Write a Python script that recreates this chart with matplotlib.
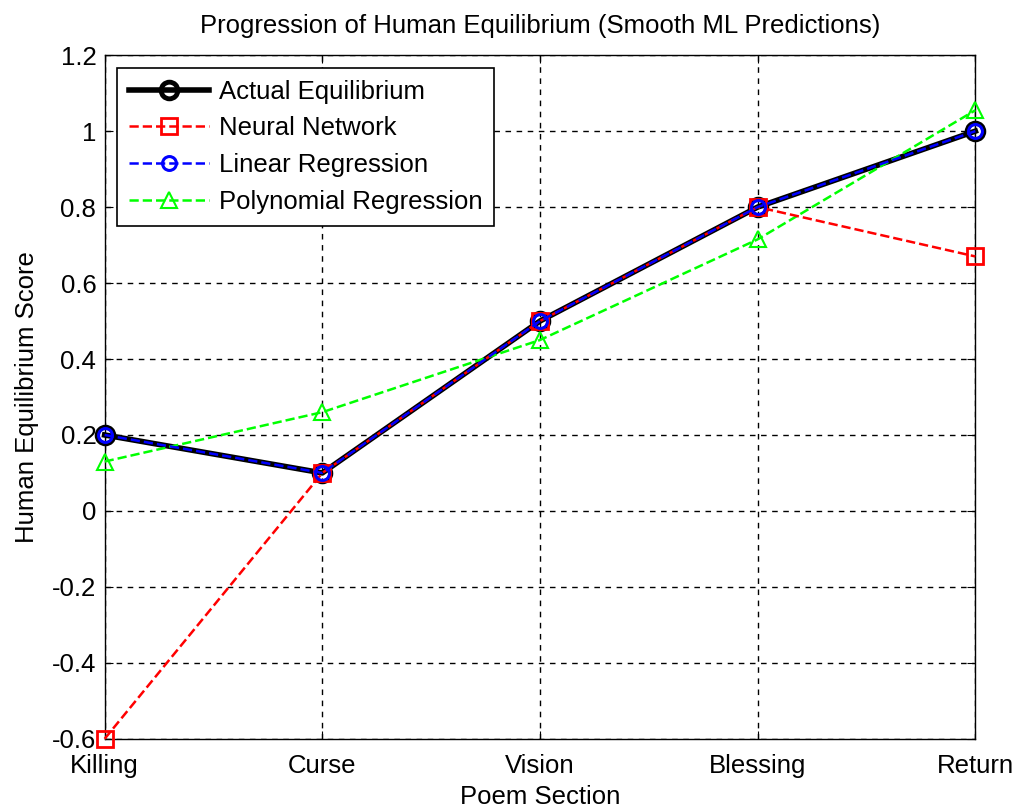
import matplotlib
matplotlib.use("Agg")
import matplotlib.pyplot as plt

sections = ["Killing", "Curse", "Vision", "Blessing", "Return"]
actual = [0.2, 0.1, 0.5, 0.8, 1.0]
neural_net = [-0.6, 0.1, 0.5, 0.8, 0.67]
linear_reg = [0.2, 0.1, 0.5, 0.8, 1.0]
poly_reg = [0.13, 0.26, 0.45, 0.715, 1.055]

plt.rcParams["font.family"] = ["Liberation Sans", "DejaVu Sans"]
fs = 18.5

fig = plt.figure(figsize=(10.16, 8.11), dpi=100)
ax = fig.add_axes([0.103, 0.089, 0.857, 0.843])

x = list(range(1, len(sections) + 1))
ax.plot(x, actual, "-o", color="black", lw=4, ms=12, mfc="none", mew=3.5,
        label="Actual Equilibrium", clip_on=False, zorder=3)
ax.plot(x, neural_net, "--s", color="red", lw=1.8, ms=12, mfc="none", mew=2,
        label="Neural Network", clip_on=False, zorder=4)
ax.plot(x, linear_reg, "--o", color="blue", lw=1.8, ms=10, mfc="none", mew=2.2,
        label="Linear Regression", clip_on=False, zorder=5)
ax.plot(x, poly_reg, "--^", color=(0, 1, 0), lw=1.8, ms=11, mfc="none", mew=1.5,
        label="Polynomial Regression", clip_on=False, zorder=3)

ax.set_xlim(1, 5)
ax.set_ylim(-0.6, 1.2)
ax.set_xticks(x)
ax.set_xticklabels(sections)
ax.set_yticks([-0.6, -0.4, -0.2, 0, 0.2, 0.4, 0.6, 0.8, 1.0, 1.2])
ax.set_yticklabels(["-0.6", "-0.4", "-0.2", "0", "0.2", "0.4", "0.6", "0.8", "1", "1.2"])
ax.tick_params(direction="in", labelsize=fs, length=6, top=True, right=True)
ax.tick_params(axis="x", pad=11)
ax.tick_params(axis="y", pad=6)
ax.grid(True, color="black", ls=(0, (4, 4)), lw=1)
ax.set_axisbelow(True)
for s in ax.spines.values():
    s.set_linewidth(1)

ax.set_xlabel("Poem Section", fontsize=fs, labelpad=5)
ax.set_ylabel("Human Equilibrium Score", fontsize=fs, labelpad=9)
ax.set_title("Progression of Human Equilibrium (Smooth ML Predictions)", fontsize=fs, pad=16)

leg = ax.legend(loc="upper left", fontsize=fs, fancybox=False, edgecolor="black",
                framealpha=1, handlelength=3.1, handletextpad=0.4,
                labelspacing=0.5, borderaxespad=0.5, borderpad=0.45)
leg.get_frame().set_linewidth(1.2)

fig.savefig("out.png", dpi=100)
